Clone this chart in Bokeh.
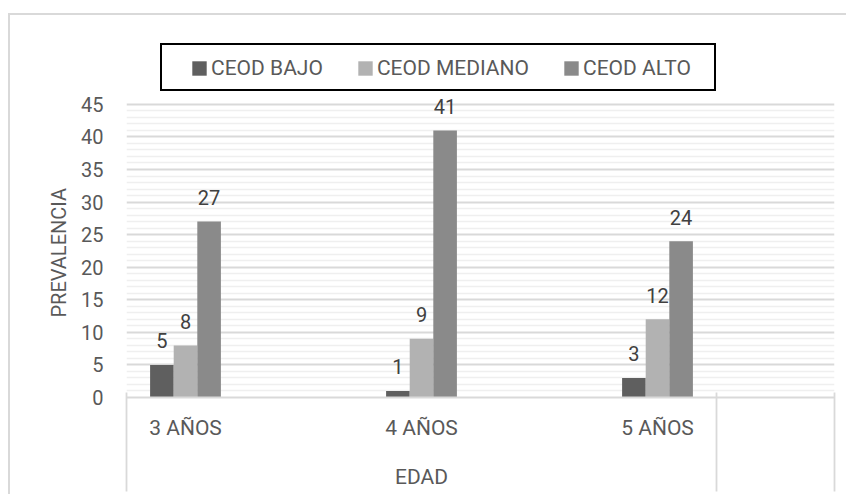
from bokeh.plotting import figure
from bokeh.models import (Range1d, FixedTicker, LinearAxis, Legend, LegendItem,
                          LabelSet, ColumnDataSource, Title)
from bokeh.core.properties import value
from bokeh.embed import file_html
from bokeh.resources import INLINE

# ---- data ----
categories = ["3 AÑOS", "4 AÑOS", "5 AÑOS"]
group_label = "EDAD"
series_names = ["CEOD BAJO", "CEOD MEDIANO", "CEOD ALTO"]
ceod_bajo = [5, 1, 3]
ceod_mediano = [8, 9, 12]
ceod_alto = [27, 41, 24]
y_ticks = [0, 5, 10, 15, 20, 25, 30, 35, 40, 45]
y_title = "PREVALENCIA"

# ---- styles ----
colors = ["#5f5f5f", "#b2b2b2", "#8a8a8a"]
FONT = "Roboto"
AXIS_TEXT = "#595959"
LABEL_TEXT = "#404040"
GRID = "#d9d9d9"
MINOR_GRID = "#efefef"
BAR_W = 0.2
Y_HEADROOM = 54.8   # plot frame reaches above the 45 line so the legend sits inside it

series = [ceod_bajo, ceod_mediano, ceod_alto]
cat_pos = [2 * i for i in range(len(categories))]
n_slots = 2 * len(categories)

p = figure(width=838, height=481, output_backend="svg", toolbar_location=None,
           x_range=Range1d(-0.5, n_slots - 0.5),
           y_range=Range1d(0, Y_HEADROOM),
           min_border_left=116, min_border_right=14, min_border_top=25,
           min_border_bottom=99)
# outer chart border (its right and bottom sides lie beyond the page)
p.styles = {"margin-left": "8px", "margin-top": "13px",
            "border-left": "2px solid #d9d9d9",
            "border-top": "2px solid #d9d9d9"}
p.outline_line_color = None
p.background_fill_color = "white"
p.border_fill_color = "white"

# y axis & grid
minor = [v for v in range(0, max(y_ticks) + 1) if v % 5]
ya = p.yaxis[0]
ya.ticker = FixedTicker(ticks=y_ticks, minor_ticks=minor)
ya.axis_line_color = None
ya.major_tick_line_color = None
ya.minor_tick_line_color = None
ya.major_tick_out = 0
ya.major_tick_in = 0
ya.minor_tick_out = 0
ya.minor_tick_in = 0
ya.major_label_standoff = 23
ya.major_label_text_font = FONT
ya.major_label_text_font_size = "20px"
ya.major_label_text_color = AXIS_TEXT
p.ygrid.grid_line_color = GRID
p.ygrid.grid_line_width = 1.8
p.ygrid.minor_grid_line_color = MINOR_GRID
p.ygrid.minor_grid_line_width = 1.5
p.xgrid.grid_line_color = None

# y axis title (placed along the 0..45 span)
p.add_layout(Title(text=y_title, align="left", offset=80, standoff=16,
                   vertical_align="bottom", text_font=FONT,
                   text_font_size="20px", text_font_style="normal",
                   text_color=AXIS_TEXT), "left")

# x axis (categories)
xa = p.xaxis[0]
xa.ticker = FixedTicker(ticks=cat_pos, minor_ticks=[])
xa.major_label_overrides = {c: lab for c, lab in zip(cat_pos, categories)}
xa.axis_line_color = GRID
xa.axis_line_width = 1.8
xa.major_tick_line_color = None
xa.minor_tick_line_color = None
xa.major_tick_out = 0
xa.major_tick_in = 0
xa.minor_tick_out = 0
xa.minor_tick_in = 0
xa.major_label_standoff = 18
xa.major_label_text_font = FONT
xa.major_label_text_font_size = "21px"
xa.major_label_text_color = AXIS_TEXT

# outer group axis
group_center = (cat_pos[0] - 0.5 + n_slots - 1.5) / 2
ga = LinearAxis(ticker=FixedTicker(ticks=[group_center], minor_ticks=[]))
ga.major_label_overrides = {group_center: group_label}
ga.axis_line_color = None
ga.major_tick_line_color = None
ga.minor_tick_line_color = None
ga.major_tick_out = 0
ga.major_tick_in = 0
ga.minor_tick_out = 0
ga.minor_tick_in = 0
ga.major_label_standoff = 22
ga.major_label_text_font = FONT
ga.major_label_text_font_size = "21px"
ga.major_label_text_color = AXIS_TEXT
p.add_layout(ga, "below")

# divider lines of the category table, drawn as inward ticks of a bottom axis
dividers = [-0.5, n_slots - 1.5, n_slots - 0.5]
da = LinearAxis(ticker=FixedTicker(ticks=dividers, minor_ticks=[]))
da.major_label_overrides = {d: "" for d in dividers}
da.major_label_text_font_size = "0px"
da.major_label_standoff = 0
da.axis_line_color = None
da.major_tick_line_color = GRID
da.major_tick_line_width = 1.8
da.major_tick_in = 99
da.major_tick_out = 0
da.minor_tick_line_color = None
da.minor_tick_out = 0
da.minor_tick_in = 0
p.add_layout(da, "below")

# bars + labels
items = []
for k, (name, vals, col) in enumerate(zip(series_names, series, colors)):
    xs = [c + (k - 1) * BAR_W for c in cat_pos]
    src = ColumnDataSource(dict(x=xs, top=vals, label=[str(v) for v in vals]))
    r = p.vbar(x="x", top="top", width=BAR_W, source=src, fill_color=col,
               line_color=None)
    items.append(LegendItem(label=name, renderers=[r]))
    p.add_layout(LabelSet(x="x", y="top", text="label", source=src,
                          text_align="center", text_baseline="middle",
                          y_offset=24, text_font=value(FONT),
                          text_font_size="20px", text_color=LABEL_TEXT))

# the legend's black frame, drawn by a legend whose only item is blank
dummy = p.scatter(x=[], y=[], fill_alpha=0, line_alpha=0)
box = Legend(items=[LegendItem(label=" ", renderers=[dummy])],
             location=(34, 306), padding=0, glyph_width=1, glyph_height=1,
             label_standoff=0, label_width=551, label_height=44,
             label_text_font_size="1px", border_line_color="black",
             border_line_width=2, border_line_alpha=1,
             background_fill_alpha=0, margin=0)
p.add_layout(box, "center")

legend = Legend(items=items, orientation="horizontal", location=(64, 317),
                padding=4, spacing=33, label_standoff=3, glyph_width=18,
                glyph_height=18, label_text_font=FONT,
                label_text_font_size="21px", label_text_color=AXIS_TEXT,
                border_line_color=None, background_fill_alpha=0, margin=0)
p.add_layout(legend, "center")

open("out.html", "w").write(file_html(p, INLINE))
